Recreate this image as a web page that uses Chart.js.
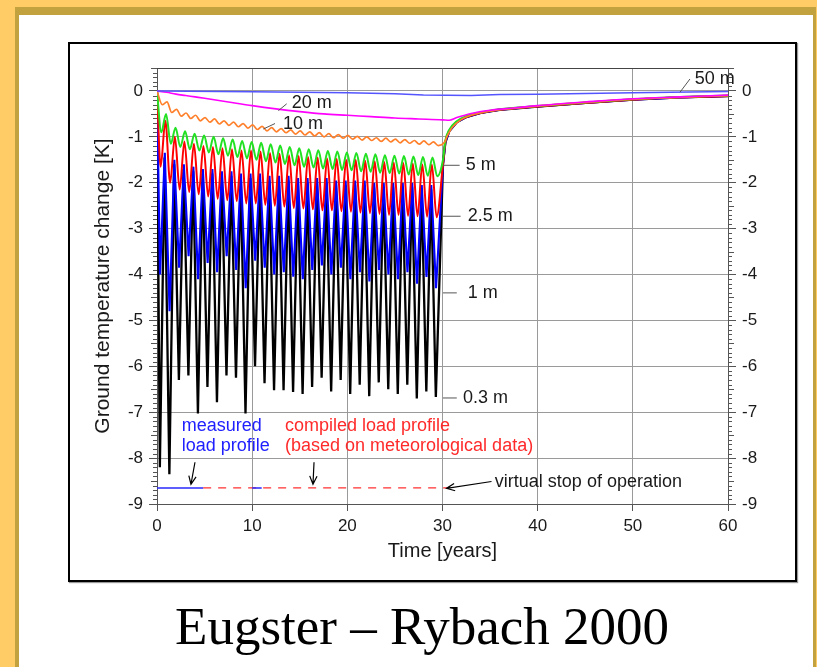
<!DOCTYPE html>
<html><head><meta charset="utf-8">
<script src="https://cdn.jsdelivr.net/npm/chart.js@4.4.1/dist/chart.umd.min.js"></script>
<style>
html,body{margin:0;padding:0;}
body{width:817px;height:667px;background:#FFCC66;position:relative;overflow:hidden;font-family:'Liberation Sans',Arial,sans-serif;}
#panel{position:absolute;left:15px;top:7px;width:794px;height:680px;background:#fff;border-left:4px solid #C2A23E;border-top:8px solid #C2A23E;border-right:3px solid #C2A23E;}
#box{position:absolute;left:68px;top:42px;width:725px;height:536px;border:2px solid #000;box-shadow:1px 1px 1px #999;background:#fff;}
#wrap{position:absolute;left:0;top:0;width:725px;height:536px;}
#caption{position:absolute;left:0;top:600px;width:844px;text-align:center;font-family:'Liberation Serif','Times New Roman',serif;font-size:53px;line-height:53px;color:#000;white-space:nowrap;}
</style>
</head>
<body>
<div id="panel"></div>
<div id="box"><div id="wrap"><canvas id="c"></canvas></div></div>
<div id="caption">Eugster – Rybach 2000</div>
<script>
// ---------- DATA ----------
const cycleYears = [0,1,2,3,4,5,6,7,8,9,10,11,12,13,14,15,16,17,18,19,20,21,22,23,24,25,26,27,28,29];
const xTicks = [0,10,20,30,40,50,60];
const depthLabels = ['50 m','20 m','10 m','5 m','2.5 m','1 m','0.3 m'];

// 0.3 m (black): winter minima and summer maxima per operating year
const blackTroughs = [-8.20,-8.35,-6.30,-6.20,-7.03,-6.45,-6.78,-6.20,-6.25,-7.03,-6.00,-6.37,-6.52,-6.52,-6.56,-6.60,-6.45,-6.25,-6.55,-6.30,-6.60,-6.40,-6.65,-6.35,-6.50,-6.60,-6.40,-6.70,-6.55,-6.67];
const blackPeaks   = [-1.45,-1.60,-1.70,-1.75,-1.80,-1.80,-1.85,-1.85,-1.90,-1.90,-1.90,-1.95,-1.95,-1.95,-2.00,-2.00,-2.00,-2.00,-2.05,-2.05,-2.05,-2.05,-2.10,-2.10,-2.10,-2.10,-2.10,-2.15,-2.15];
// 1 m (blue)
const blueTroughs = [-4.00,-4.80,-3.85,-3.60,-4.10,-3.75,-3.95,-3.60,-3.90,-4.30,-3.70,-3.85,-4.00,-3.95,-4.05,-4.10,-3.90,-3.80,-4.00,-3.85,-4.10,-3.95,-4.15,-3.90,-4.00,-4.10,-3.95,-4.20,-4.05,-4.30];
const bluePeaks   = [-1.35,-1.50,-1.60,-1.65,-1.70,-1.70,-1.75,-1.75,-1.80,-1.80,-1.80,-1.85,-1.85,-1.85,-1.90,-1.90,-1.90,-1.90,-1.95,-1.95,-1.95,-1.95,-2.00,-2.00,-2.00,-2.00,-2.00,-2.05,-2.05];
// 2.5 m (red)
const redTroughs = [-1.65,-2.00,-2.15,-2.20,-2.25,-2.30,-2.35,-2.38,-2.40,-2.45,-2.45,-2.48,-2.50,-2.52,-2.55,-2.56,-2.58,-2.60,-2.60,-2.62,-2.63,-2.65,-2.66,-2.68,-2.70,-2.70,-2.72,-2.73,-2.74,-2.75];
const redPeaks   = [-0.65,-1.00,-1.10,-1.15,-1.20,-1.22,-1.25,-1.27,-1.30,-1.30,-1.32,-1.35,-1.37,-1.40,-1.42,-1.44,-1.45,-1.47,-1.48,-1.50,-1.50,-1.52,-1.53,-1.55,-1.56,-1.57,-1.58,-1.60,-1.60];
// 5 m (green)
const greenTroughs = [-0.90,-1.15,-1.22,-1.27,-1.30,-1.34,-1.38,-1.41,-1.44,-1.47,-1.50,-1.53,-1.56,-1.59,-1.62,-1.65,-1.67,-1.69,-1.70,-1.72,-1.73,-1.75,-1.76,-1.78,-1.79,-1.80,-1.82,-1.83,-1.85,-1.86];
const greenPeaks   = [-0.50,-0.80,-0.88,-0.93,-0.97,-1.00,-1.03,-1.06,-1.09,-1.11,-1.13,-1.16,-1.19,-1.22,-1.25,-1.27,-1.29,-1.31,-1.32,-1.34,-1.35,-1.37,-1.38,-1.40,-1.41,-1.42,-1.43,-1.44,-1.45];
// 10 m (orange)
const orangeTroughs = [-0.30,-0.47,-0.55,-0.60,-0.65,-0.68,-0.72,-0.75,-0.78,-0.81,-0.84,-0.87,-0.89,-0.91,-0.94,-0.96,-0.98,-1.00,-1.02,-1.03,-1.05,-1.07,-1.08,-1.10,-1.11,-1.13,-1.14,-1.16,-1.17,-1.19];
const orangePeaks   = [-0.24,-0.40,-0.48,-0.53,-0.58,-0.61,-0.65,-0.68,-0.71,-0.74,-0.77,-0.80,-0.82,-0.85,-0.87,-0.89,-0.91,-0.93,-0.95,-0.97,-0.99,-1.00,-1.02,-1.03,-1.05,-1.06,-1.08,-1.09,-1.11];

// recovery after the virtual stop of operation
const deepTailYears  = [30.05,30.3,30.7,31.5,32.5,34,36,40,45,50,55,60];
const deepTailValues = [-1.60,-1.12,-0.88,-0.68,-0.57,-0.48,-0.41,-0.34,-0.26,-0.19,-0.14,-0.11];
const greenTailValues= [-1.50,-1.08,-0.85,-0.66,-0.55,-0.47,-0.40,-0.33,-0.25,-0.18,-0.13,-0.10];
const orangeTailYears  = [30.2,30.5,31,32,33,35,37.5,40,45,50,55,60];
const orangeTailValues = [-1.12,-0.98,-0.80,-0.62,-0.53,-0.44,-0.38,-0.33,-0.25,-0.18,-0.14,-0.10];

// 20 m (magenta) and 50 m (light blue)
const magentaYears  = [0,1,2,3,4,5,7.5,10,12.5,15,17.5,20,22.5,25,27.5,30,30.7,31.5,33,35,37.5,40,45,50,55,60];
const magentaValues = [0,-0.03,-0.07,-0.10,-0.13,-0.16,-0.24,-0.32,-0.39,-0.45,-0.50,-0.53,-0.56,-0.59,-0.61,-0.63,-0.64,-0.58,-0.49,-0.42,-0.37,-0.32,-0.24,-0.17,-0.13,-0.09];
const fiftyYears  = [0,10,20,25,28,33,36,40,50,60];
const fiftyValues = [0,-0.02,-0.04,-0.06,-0.09,-0.10,-0.08,-0.07,-0.04,-0.01];

// load-profile bar at the bottom
const loadLevel = -8.65;
const measuredSpans = [[0,4.85],[10,11]];
const compiledSpan = [4.85,30.5];

// ---------- build point lists ----------
function cycleSeries(troughs, peaks, phase, tailX, tailY){
  const pts=[{x:0,y:0}];
  cycleYears.forEach((yr,i)=>{
    pts.push({x:yr+phase,y:troughs[i]});
    if(i<peaks.length) pts.push({x:yr+phase+0.5,y:peaks[i]});
  });
  tailX.forEach((t,i)=>pts.push({x:t,y:tailY[i]}));
  return pts;
}
const zip=(xs,ys)=>xs.map((x,i)=>({x:x,y:ys[i]}));

const measuredPts=[];
measuredSpans.forEach((s,i)=>{ if(i>0) measuredPts.push({x:(measuredSpans[i-1][1]+s[0])/2,y:null}); measuredPts.push({x:s[0],y:loadLevel},{x:s[1],y:loadLevel}); });

const FONT="'Liberation Sans', Arial, sans-serif";
Chart.defaults.font.family=FONT;
Chart.defaults.color='#1a1a1a';

const line=(label,data,color,w,order,extra)=>Object.assign({label,data,borderColor:color,backgroundColor:color,borderWidth:w,pointRadius:0,fill:false,order,tension:0},extra||{});

const datasets=[
  line(depthLabels[6],cycleSeries(blackTroughs,blackPeaks,0.30,deepTailYears,deepTailValues),'#000000',2.3,10),
  line(depthLabels[5],cycleSeries(blueTroughs,bluePeaks,0.32,deepTailYears,deepTailValues),'#0000FF',2.1,9),
  line(depthLabels[4],cycleSeries(redTroughs,redPeaks,0.38,deepTailYears,deepTailValues),'#FF0000',2,8,{cubicInterpolationMode:'monotone'}),
  line(depthLabels[3],cycleSeries(greenTroughs,greenPeaks,0.45,deepTailYears,greenTailValues),'#22E022',2,7,{cubicInterpolationMode:'monotone'}),
  line(depthLabels[2],cycleSeries(orangeTroughs,orangePeaks,0.55,orangeTailYears,orangeTailValues),'#FF7F2A',1.7,6,{cubicInterpolationMode:'monotone'}),
  line(depthLabels[1],zip(magentaYears,magentaValues),'#FF00FF',1.6,5,{cubicInterpolationMode:'monotone'}),
  line(depthLabels[0],zip(fiftyYears,fiftyValues),'#5555FF',1.5,4),
  line('compiled load profile',[{x:compiledSpan[0],y:loadLevel},{x:compiledSpan[1],y:loadLevel}],'#FF3030',1.3,3,{borderDash:[8,7]}),
  line('measured load profile',measuredPts,'#2A2AFF',1.5,2,{spanGaps:false})
];

// ---------- annotations (text, leaders, arrows) ----------
const labelSpots=[
  {t:depthLabels[0],x:56.5,y:0.25,lead:[54.95,-0.03,56.0,0.26]},
  {t:depthLabels[1],x:14.15,y:-0.26,lead:[12.75,-0.43,13.63,-0.28]},
  {t:depthLabels[2],x:13.25,y:-0.72,lead:[11.17,-0.83,12.4,-0.71]},
  {t:depthLabels[3],x:32.45,y:-1.62,lead:[30.05,-1.62,31.8,-1.62]},
  {t:depthLabels[4],x:32.65,y:-2.73,lead:[30.05,-2.73,31.9,-2.73]},
  {t:depthLabels[5],x:32.65,y:-4.40,lead:[30.05,-4.40,31.5,-4.40]},
  {t:depthLabels[6],x:32.15,y:-6.69,lead:[30.05,-6.69,31.5,-6.69]}
];
const notes=[
  {t:'measured',x:2.6,y:-7.31,c:'#2020FF'},
  {t:'load profile',x:2.6,y:-7.73,c:'#2020FF'},
  {t:'compiled load profile',x:13.45,y:-7.31,c:'#FF2A2A'},
  {t:'(based on meteorological data)',x:13.45,y:-7.73,c:'#FF2A2A'},
  {t:'virtual stop of operation',x:35.5,y:-8.53,c:'#1a1a1a'}
];
const arrows=[[3.99,-8.09,3.57,-8.57],[16.5,-8.09,16.39,-8.57],[35.15,-8.51,30.42,-8.66]];

const annot={
  id:'annot',
  afterDraw(chart){
    const ctx=chart.ctx, xs=chart.scales.x, ys=chart.scales.y, a=chart.chartArea;
    const X=v=>xs.getPixelForValue(v), Y=v=>ys.getPixelForValue(v);
    ctx.save();
    ctx.strokeStyle='#444'; ctx.lineWidth=1;
    ctx.beginPath(); ctx.moveTo(a.left,Math.round(a.top)+0.5); ctx.lineTo(a.right,Math.round(a.top)+0.5); ctx.stroke();
    ctx.strokeStyle='#555';
    for(let k=-90;k<=5;k++){
      if(k%10===0) continue;
      const len=(k%5===0)?6:4;
      const y=Math.round(Y(k/10))+0.5;
      ctx.beginPath();
      ctx.moveTo(a.left-len,y); ctx.lineTo(a.left,y);
      ctx.moveTo(a.right,y); ctx.lineTo(a.right+len,y);
      ctx.stroke();
    }
    ctx.font='18px '+FONT; ctx.textBaseline='middle'; ctx.textAlign='left';
    labelSpots.forEach(s=>{
      ctx.strokeStyle='#555'; ctx.lineWidth=1;
      ctx.beginPath(); ctx.moveTo(X(s.lead[0]),Y(s.lead[1])); ctx.lineTo(X(s.lead[2]),Y(s.lead[3])); ctx.stroke();
      ctx.fillStyle='#1a1a1a'; ctx.fillText(s.t,X(s.x),Y(s.y));
    });
    notes.forEach(n=>{ ctx.fillStyle=n.c; ctx.fillText(n.t,X(n.x),Y(n.y)); });
    ctx.strokeStyle='#000'; ctx.lineWidth=1.2;
    arrows.forEach(r=>{
      const x1=X(r[0]),y1=Y(r[1]),x2=X(r[2]),y2=Y(r[3]);
      const ang=Math.atan2(y2-y1,x2-x1), hl=9, hw=0.42;
      ctx.beginPath(); ctx.moveTo(x1,y1); ctx.lineTo(x2,y2);
      ctx.moveTo(x2-hl*Math.cos(ang-hw),y2-hl*Math.sin(ang-hw)); ctx.lineTo(x2,y2);
      ctx.lineTo(x2-hl*Math.cos(ang+hw),y2-hl*Math.sin(ang+hw));
      ctx.stroke();
    });
    ctx.restore();
  }
};

const intOnly=s=>{ s.ticks=s.ticks.filter(t=>Math.abs(t.value-Math.round(t.value))<1e-9); };
const yCommon={
  type:'linear',min:-9,max:0.5,
  afterBuildTicks:intOnly,
  ticks:{stepSize:1,font:{size:17},color:'#1a1a1a',padding:6},
  border:{color:'#555',width:1}
};

new Chart(document.getElementById('c'),{
  type:'line',
  data:{datasets},
  options:{
    responsive:true,maintainAspectRatio:false,animation:false,
    layout:{padding:{top:24,left:0,right:0,bottom:0}},
    plugins:{legend:{display:false},tooltip:{enabled:false}},
    scales:{
      x:{type:'linear',min:0,max:60,
        afterBuildTicks:s=>{ s.ticks=xTicks.map(v=>({value:v})); },
        ticks:{font:{size:17},color:'#1a1a1a',padding:5,maxRotation:0},
        grid:{color:'#9a9a9a',lineWidth:1,tickLength:7,tickColor:'#555'},
        border:{color:'#555',width:1},
        title:{display:true,text:'Time [years]',font:{size:20},color:'#1a1a1a',padding:{top:0,bottom:17}},
        afterFit:s=>{ s.height=76; }
      },
      y:Object.assign({},yCommon,{position:'left',
        grid:{color:'#9a9a9a',lineWidth:1,tickLength:8,tickColor:'#555'},
        title:{display:true,text:'Ground temperature change [K]',font:{size:21},color:'#1a1a1a',padding:{top:21,bottom:0}},
        afterFit:s=>{ s.width=87; }
      }),
      y2:Object.assign({},yCommon,{position:'right',
        grid:{drawOnChartArea:false,tickLength:8,tickColor:'#555'},
        afterFit:s=>{ s.width=67; }
      })
    }
  },
  plugins:[annot]
});
</script>
</body></html>
